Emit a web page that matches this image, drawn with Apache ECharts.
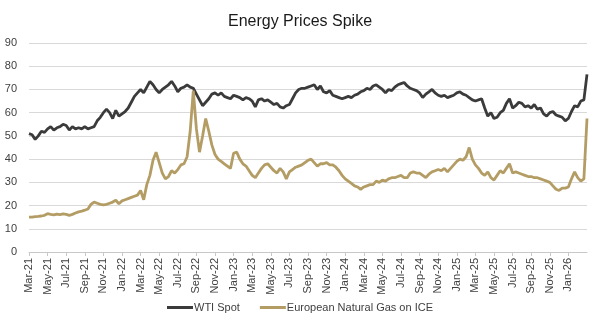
<!DOCTYPE html>
<html>
<head>
<meta charset="utf-8">
<script src="https://cdn.jsdelivr.net/npm/echarts@6/dist/echarts.min.js"></script>
<style>html,body{margin:0;padding:0;background:#fff}#c{width:600px;height:328px}</style>
</head>
<body>
<div id="c"></div>
<script>
// Tick labels (every 2 months)
const tickLabels = ['Mar-21','May-21','Jul-21','Sep-21','Nov-21','Jan-22','Mar-22','May-22','Jul-22','Sep-22','Nov-22','Jan-23','Mar-23','May-23','Jul-23','Sep-23','Nov-23','Jan-24','Mar-24','May-24','Jul-24','Sep-24','Nov-24','Jan-25','Mar-25','May-25','Jul-25','Sep-25','Nov-25','Jan-26'];
const monthNames = ['Jan','Feb','Mar','Apr','May','Jun','Jul','Aug','Sep','Oct','Nov','Dec'];
const samplesPerMonth = 3; // roughly 1st, 11th, 21st of each month
const startYear = 2021, startMonth = 2; // March 2021

// WTI Spot (samples ~every 10 days, Mar-21 .. Mar-26)
const wti = [
51,50.5,48.5,50,52,51.5,53,54,52.5,53.5,54,55,54.5,52.5,54,53,53.5,53,54,53,53.5,54,56.5,58,60,61.5,60,57.5,61,58.5,
59.5,60.5,62,64.5,67,68.5,70,68.5,71,73.5,72,70,68.5,70,71,72,73.5,71.5,69,70.5,71,72,71,70.5,68,65.5,63,64.5,66,68,
68.5,67.5,68.5,67,66.5,66,67.5,67,66.5,65.5,66.5,66,65,62.5,65.5,66,65,65.5,64.5,63.5,64,62.5,62,63,63.5,66,68.5,70,70.5,70.5,
71,71.5,72,70,71.5,69,68.5,69.5,67.5,67,66.5,66,66.5,67,66.5,67.5,68,69,69.5,70.5,70,71.5,72,71,70,68.5,70,69.5,71,72,
72.5,73,71.5,70.5,70,69.5,68.5,66.5,68,69,70,68.5,67.5,67,67.5,66.5,67,67.5,68.5,69,68,67.5,66.5,65.5,65,65.5,66,62,58.5,60,
57.5,58,60,61,64,66,62,63,64.5,64,62.5,63,62,63.5,61.5,62,59.5,58.5,60,60.5,59,58.5,58,56.5,57.5,60.5,63,62.5,65,65.5,
76.5
];
// European Natural Gas on ICE
const gas = [
15,15,15.2,15.3,15.5,15.8,16.5,16.2,16,16.3,16.1,16.4,16.2,15.8,16.2,16.8,17.3,17.6,18,18.5,20.5,21.5,21,20.5,20.3,20.5,21,21.5,22.3,20.8,
22,22.5,23,23.5,24,24.5,26.5,22.5,29,33,39.5,43,38.5,34,31.5,32.5,35,34,35.5,37.5,38,41,52,69.5,53,43,50,57.5,52,46,
42,40,39,38,37,36,42.5,43,40,38,37,35,33,32,34,36,37.5,38,36.5,35,34,36,34.5,31.5,34.5,35.5,36.5,37,37.5,38.5,
39.5,40,38.5,37,38,38,38.5,37.5,37.5,36.5,35,33,31.5,30.5,29.5,28.5,28,27,28,28.5,29,29,30.5,30,31,30.5,31.5,32,32,32.5,
33,32,32,34,34.5,34,34,33,32,33.5,34.5,35,35.5,35,36,34.5,36,37.5,39,40,39.5,41,45,40,37.5,36,34,33,34.5,32,
31,33,35,34,36,38,34,34.5,34,33.5,33,32.5,32.5,32,32,31.5,31,30.5,30,28.5,27,26.5,27.5,27.5,28,31.5,34.5,32,30.5,31.5,
57.5
];

// category per sample
const categories = wti.map((_, i) => {
  const m = startMonth + Math.floor(i / samplesPerMonth);
  const y = startYear + Math.floor(m / 12);
  const d = ['01','11','21'][i % samplesPerMonth];
  return monthNames[m % 12] + '-' + String(y).slice(2) + ' ' + d;
});
const labelEvery = samplesPerMonth * 2;
const showTick = (idx) => idx % labelEvery === 0 && (idx / labelEvery) < tickLabels.length;

const chart = echarts.init(document.getElementById('c'), null, {renderer: 'canvas'});
chart.setOption({
  animation: false,
  backgroundColor: '#ffffff',
  textStyle: {fontFamily: 'Liberation Sans, Arial, sans-serif'},
  title: {
    text: 'Energy Prices Spike',
    left: 'center',
    top: 9,
    textStyle: {fontSize: 16, fontWeight: 'normal', color: '#1a1a1a', fontFamily: 'Liberation Sans, Arial, sans-serif'}
  },
  grid: {left: 29, right: 13, top: 43, bottom: 76},
  legend: {
    bottom: 10,
    left: 'center',
    icon: 'rect',
    itemWidth: 26,
    itemHeight: 3,
    itemGap: 20,
    textStyle: {fontSize: 11, color: '#404040', padding: [0, 0, 0, -4]},
    data: ['WTI Spot', 'European Natural Gas on ICE']
  },
  xAxis: {
    type: 'category',
    data: categories,
    boundaryGap: false,
    axisLine: {lineStyle: {color: '#c8c8c8', width: 1}},
    axisTick: {show: true, length: 4, interval: (idx) => showTick(idx), lineStyle: {color: '#c8c8c8'}},
    axisLabel: {
      rotate: 90,
      fontSize: 11,
      color: '#404040',
      margin: 6,
      interval: (idx) => showTick(idx),
      formatter: (val, idx) => tickLabels[idx / labelEvery] || ''
    },
    splitLine: {show: false}
  },
  yAxis: {
    type: 'value',
    min: 0, max: 90, interval: 10,
    axisLine: {show: false},
    axisTick: {show: false},
    axisLabel: {fontSize: 11, color: '#404040', margin: 12},
    splitLine: {lineStyle: {color: '#d9d9d9', width: 1}}
  },
  series: [
    {name: 'WTI Spot', type: 'line', data: wti, symbol: 'none', itemStyle: {color: '#3b3b3b'}, lineStyle: {color: '#3b3b3b', width: 2.8}},
    {name: 'European Natural Gas on ICE', type: 'line', data: gas, symbol: 'none', itemStyle: {color: '#b49d64'}, lineStyle: {color: '#b49d64', width: 2.8}}
  ]
});
</script>
</body>
</html>
